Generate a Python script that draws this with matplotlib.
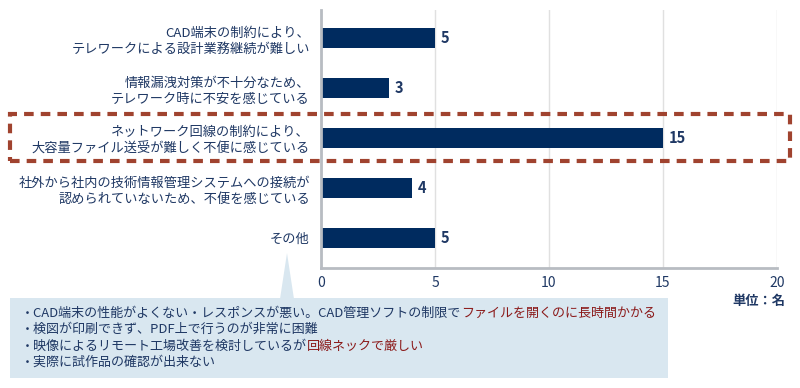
import matplotlib
matplotlib.use("Agg")
import matplotlib.pyplot as plt
from matplotlib.patches import Rectangle, Polygon

plt.rcParams['font.family'] = ['Noto Sans CJK JP', 'DejaVu Sans']

categories = [
    "CAD端末の制約により、\nテレワークによる設計業務継続が難しい",
    "情報漏洩対策が不十分なため、\nテレワーク時に不安を感じている",
    "ネットワーク回線の制約により、\n大容量ファイル送受が難しく不便に感じている",
    "社外から社内の技術情報管理システムへの接続が\n認められていないため、不便を感じている",
    "その他",
]
values = [5, 3, 15, 4, 5]
xticks = [0, 5, 10, 15, 20]
unit_label = "単位：名"
notes = [
    ("・CAD端末の性能がよくない・レスポンスが悪い。CAD管理ソフトの制限で", "ファイルを開くのに長時間かかる"),
    ("・検図が印刷できず、PDF上で行うのが非常に困難", ""),
    ("・映像によるリモート工場改善を検討しているが", "回線ネックで厳しい"),
    ("・実際に試作品の確認が出来ない", ""),
]

NAVY = "#002b5f"
TEXT = "#1f3864"
RED = "#8b1a1a"
DASH = "#a0432f"

W, H = 800, 388
fig = plt.figure(figsize=(W / 100, H / 100), dpi=100)
ax = fig.add_axes([321 / W, 1 - 268 / H, (777 - 321) / W, (268 - 10) / H])

ypos = list(range(len(categories)))
ax.barh(ypos, values, height=0.4, color=NAVY, zorder=3)
for y, v in zip(ypos, values):
    ax.text(v + 0.25, y, str(v), va='center', ha='left', fontsize=10.5,
            fontweight='bold', color=TEXT, zorder=4)

ax.set_xlim(0, 20)
ax.set_ylim(4.6, -0.56)
ax.set_xticks(xticks)
ax.set_xticklabels([str(t) for t in xticks], fontsize=10, color=TEXT)
ax.set_yticks(ypos)
ax.set_yticklabels(categories, fontsize=9.5, color=TEXT, linespacing=1.35)
ax.tick_params(axis='both', length=0, pad=8)
ax.tick_params(axis='x', pad=6)
ax.grid(axis='x', color='#e0e0e0', linewidth=1, zorder=0)
for s in ['top', 'right']:
    ax.spines[s].set_visible(False)
ax.spines['left'].set_color('#b8bcc2')
ax.spines['left'].set_linewidth(2)
ax.spines['bottom'].set_color('#b8bcc2')
ax.spines['bottom'].set_linewidth(2)
ax.spines['bottom'].set_zorder(5)
ax.spines['left'].set_zorder(5)

# unit label
fig.text(785 / W, 1 - 301 / H, unit_label, ha='right', va='center',
         fontsize=9.5, fontweight='bold', color=TEXT)

# dashed highlight rectangle
rect = Rectangle((10 / W, 1 - 161 / H), (790 - 10) / W, (161 - 114) / H,
                 transform=fig.transFigure, fill=False, edgecolor=DASH,
                 linewidth=3, linestyle=(0, (2.3, 1.7)), zorder=10)
fig.add_artist(rect)

# callout box
box = Rectangle((10 / W, 1 - 378 / H), (668 - 10) / W, (378 - 298) / H,
                transform=fig.transFigure, facecolor='#d9e7f0', edgecolor='none', zorder=1)
fig.add_artist(box)
tri = Polygon([(287 / W, 1 - 253 / H), (280 / W, 1 - 299 / H), (294 / W, 1 - 299 / H)],
              closed=True, transform=fig.transFigure, facecolor='#d9e7f0',
              edgecolor='none', zorder=1)
fig.add_artist(tri)

renderer = fig.canvas.get_renderer()
line_y = [313, 329, 346, 362]
for (black, red), yy in zip(notes, line_y):
    x0, y0 = 21 / W, 1 - yy / H
    fig.text(x0, y0, black, ha='left', va='center', fontsize=9.4,
             color=TEXT, zorder=11)
    if red:
        # measure the full line to find where the coloured tail ends
        tmp = fig.text(x0, y0, black + red, ha='left', va='center', fontsize=9.4)
        x_end = tmp.get_window_extent(renderer).x1 / fig.bbox.width
        tmp.remove()
        fig.text(x_end, y0, red, ha='right', va='center', fontsize=9.4,
                 color=RED, zorder=12)

fig.savefig("out.png", dpi=100)
